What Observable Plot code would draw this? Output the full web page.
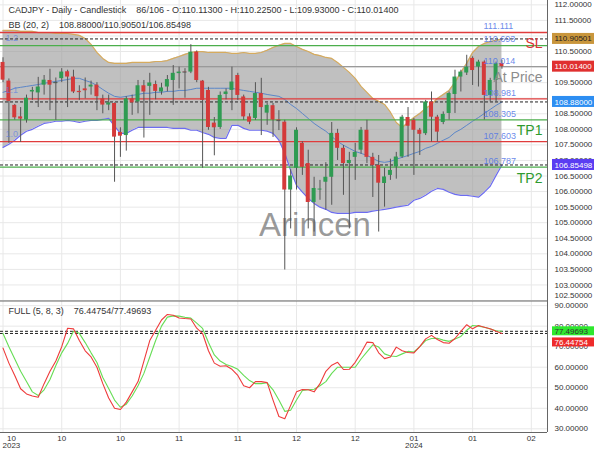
<!DOCTYPE html>
<html><head><meta charset="utf-8">
<script src="https://cdn.jsdelivr.net/npm/d3@7"></script>
<script src="https://cdn.jsdelivr.net/npm/@observablehq/plot@0.6"></script>
<style>
body{margin:0;background:#fff;}
#chart{width:600px;height:450px;position:relative;background:#fff;}
#chart svg{display:block;}
</style></head><body><div id="chart"></div>
<script>
// ---- Candle data (index 0..85) ----
const opens = [110.15,109.55,108.77,108.40,108.30,109.20,109.17,109.42,109.57,109.48,
109.63,109.85,109.68,109.22,109.30,109.36,109.42,108.98,108.78,108.83,
107.90,107.80,108.98,108.88,109.40,109.38,109.44,109.20,109.36,109.57,
109.79,109.85,109.84,110.48,109.55,109.25,108.20,108.06,109.12,109.25,
109.73,109.04,108.40,108.35,109.15,108.52,108.76,108.30,108.23,106.05,
106.75,107.55,106.90,105.65,106.05,106.30,106.46,107.87,107.39,106.90,
107.10,107.33,107.97,107.10,106.84,106.26,106.52,106.79,107.11,108.38,
108.29,107.97,107.86,108.88,108.39,108.22,108.51,109.12,109.68,109.81,
110.28,110.00,110.16,109.09,109.57,110.113];
const highs = [110.30,109.62,108.80,108.70,109.10,109.35,109.67,109.73,109.93,109.65,
109.95,109.90,109.90,109.40,109.65,109.55,109.50,109.10,109.10,108.85,
108.05,109.05,109.10,109.57,109.57,109.80,109.55,109.48,109.73,110.05,
110.00,109.95,110.72,110.52,109.57,109.35,108.38,109.20,109.30,110.00,
109.80,109.10,108.50,109.50,109.64,108.83,108.83,108.60,108.29,106.70,
108.05,107.60,107.33,106.46,106.36,106.93,108.22,108.00,107.48,107.26,
107.55,108.06,108.29,107.23,107.16,106.75,107.04,107.26,108.45,108.70,
108.35,108.03,108.93,109.20,108.45,108.56,109.20,109.90,109.90,110.38,
110.33,110.22,110.20,109.64,110.16,110.225];
const lows = [109.50,107.55,108.30,107.58,108.20,108.93,108.70,109.10,108.60,108.29,
109.50,108.70,109.15,108.93,108.98,109.10,108.60,108.50,108.60,106.30,
107.10,107.30,108.45,108.50,107.72,108.45,108.95,109.10,109.20,108.77,
109.30,109.00,109.79,109.50,106.75,107.97,107.15,108.00,108.95,108.60,
108.93,108.29,108.15,108.29,107.80,108.13,107.74,107.96,103.48,104.80,
106.05,106.52,104.80,104.70,105.72,105.40,105.56,107.00,105.88,104.80,
106.36,107.20,106.90,105.81,104.70,105.50,106.36,106.40,107.07,107.10,
106.52,107.16,107.80,107.59,107.59,108.15,108.30,108.51,109.20,109.73,
109.41,109.36,108.30,108.88,108.88,109.93];
const closes = [109.58,108.90,108.37,108.33,109.00,109.25,109.36,109.58,109.42,109.50,
109.84,109.68,109.20,109.18,109.24,109.42,109.05,108.78,108.85,107.75,
107.78,108.98,108.85,109.40,109.20,109.49,109.22,109.33,109.60,109.80,
109.84,109.84,110.48,109.57,108.93,108.06,108.05,109.09,109.20,109.52,
109.09,108.40,108.23,109.15,108.70,108.77,108.30,108.28,106.05,106.50,
107.97,106.78,105.65,106.10,106.08,106.46,107.87,107.39,106.90,107.00,
107.26,107.97,107.10,106.84,106.27,106.47,106.68,107.11,108.39,108.10,
107.97,107.84,108.88,108.39,107.91,108.48,109.15,109.68,109.84,110.00,
109.89,110.16,109.09,109.57,110.11,110.014];

// ---- Bollinger Bands (20, 2) ----
const bbUpper = [111.18,111.18,111.18,111.15,111.15,111.15,111.11,111.11,111.11,111.08,
111.08,111.08,111.05,111.02,110.92,110.73,110.47,110.28,110.15,110.12,
110.12,110.12,110.15,110.15,110.15,110.15,110.18,110.18,110.21,110.28,
110.34,110.41,110.47,110.50,110.50,110.47,110.47,110.47,110.47,110.44,
110.44,110.47,110.44,110.44,110.47,110.54,110.63,110.70,110.76,110.76,
110.66,110.57,110.50,110.41,110.37,110.31,110.28,110.15,109.99,109.83,
109.64,109.38,109.19,108.99,108.90,108.80,108.55,108.22,108.06,108.22,
108.38,108.51,108.67,108.80,108.99,109.12,109.25,109.51,109.83,110.12,
110.47,110.66,110.76,110.82,110.86,110.905];
const bbMiddle = [109.19,109.25,109.32,109.35,109.38,109.41,109.44,109.48,109.51,109.54,
109.57,109.60,109.64,109.64,109.57,109.51,109.41,109.28,109.16,109.06,
109.03,109.06,109.09,109.12,109.16,109.16,109.19,109.19,109.22,109.22,
109.25,109.25,109.28,109.32,109.32,109.32,109.32,109.32,109.32,109.32,
109.28,109.25,109.22,109.19,109.16,109.12,109.09,109.06,108.96,108.80,
108.67,108.51,108.35,108.19,108.06,107.94,107.77,107.61,107.49,107.39,
107.29,107.23,107.16,107.07,106.97,106.94,106.97,107.04,107.10,107.16,
107.23,107.29,107.39,107.45,107.55,107.65,107.74,107.90,108.00,108.13,
108.26,108.38,108.51,108.64,108.77,108.88];
const bbLower = [107.42,107.52,107.65,107.81,107.94,108.00,108.10,108.19,108.22,108.26,
108.26,108.29,108.26,108.22,108.26,108.29,108.29,108.32,108.35,108.10,
107.87,107.87,107.97,108.06,108.06,108.06,108.06,108.06,108.06,108.03,
108.03,108.03,107.97,107.97,107.90,107.84,107.74,107.71,107.71,108.13,
108.13,108.03,107.97,107.97,107.97,107.94,107.87,107.65,107.23,106.68,
106.20,105.98,105.78,105.62,105.50,105.43,105.33,105.30,105.30,105.30,
105.33,105.33,105.33,105.37,105.40,105.43,105.46,105.50,105.53,105.56,
105.72,105.78,105.88,106.01,106.10,106.07,105.98,105.91,105.88,105.88,
105.85,105.82,105.98,106.17,106.52,106.855];

// ---- Stochastic FULL (5, 8, 3) ----
const stochK = [69.3,62,56,49.5,47,46,45.4,52,58,63,
70,79,78.7,73,68,65,60,52,45,40,
39.4,43,48,53,63,73,78,83,85.7,85.3,
84,83.7,83.5,79,76.4,68,62,60.5,60.7,59,
56,51,50,53,53,52.5,44,36,34.9,41.4,
48,49.1,49,48,52,58,61,62.4,58.9,59,
62.4,67,72.2,72,67,64.2,65,69.8,68,67.2,
67,70,73.8,75.5,73.5,72,71.7,74,77.5,80.7,
78.7,80.3,79.5,78.7,77.5,76.45];
const stochD = [76.4,70,64,58,53,48,46.2,49,54,60.8,
67,71.6,77.5,76.5,72,67,62.3,55,49.6,44,
40.5,42,46,51,57,65,73,80,84.4,85,
84.9,84.3,83.9,81.5,78.9,72,66,63,61.3,60.3,
59,56,53.5,52,52,52.4,49,44,38.5,39,
44,48.7,49,49.3,51,53,57,60,60,60,
60,64,67.5,70.9,69.8,66.5,65.5,65.2,66.5,67.7,
67.4,70,73,74,74.1,73.2,72.6,73.8,75,78,
80.3,80,79.5,78.6,77.8,77.5];

// ---- Axis labels ----
const xTickIndex = [0,10,20,30,40,50,60,70,80,90];
const xTickLabels = ["10","10","10","11","11","12","12","01","01","02"];
const yearIndex = [0,70];
const yearLabels = ["2023","2024"];
const priceTicks = d3.range(102.5, 112.001, 0.5);
const stochTicks = [30,40,50,60,70,80,90];

// ---- Levels ----
const levelValues = [111.111,110.693,110.014,108.981,108.305,107.603,106.787];
const levelKinds  = ["sl","tp","price","sl","tp","sl","tp"];
const annTexts  = ["SL","At Price","TP1","TP2"];
const annLevels = [111.111,110.014,108.305,106.787];
const annKinds  = ["sl","price","tp","tp"];
const sideTexts = ["1.2","1.1","1.0"];
const sideValues = [110.92,109.25,107.84];
const bbDashed = [110.90501,108.88000,106.85498];
const stochDashed = [77.49693,76.44754];
const upperBadgeValues = [110.90501,110.01400,108.88000,106.85498];
const upperBadgeKinds = ["bbU","price","bbM","bbL"];
const lowerBadgeValues = [77.49693,76.44754];
const lowerBadgeKinds = ["d","k"];

const candles = opens.map((o,i)=>({i, open:o, high:highs[i], low:lows[i], close:closes[i],
  upper:bbUpper[i], middle:bbMiddle[i], lower:bbLower[i], k:stochK[i], d:stochD[i]}));
const xTicks = xTickIndex.map((i,j)=>({i, label:xTickLabels[j]}));
const years = yearIndex.map((i,j)=>({i, label:yearLabels[j]}));
const levels = levelValues.map((v,j)=>({value:v, kind:levelKinds[j]}));
const anns = annTexts.map((t,j)=>({text:t, value:annLevels[j], kind:annKinds[j]}));
const sides = sideTexts.map((t,j)=>({text:t, value:sideValues[j]}));

const levelColor = {sl:"#e03c3c", tp:"#4cae4c", price:"#9a9a9a"};
const annColor = {sl:"#dd3333", tp:"#2e9a2e", price:"#8c8c8c"};
const badgeBg = {bbU:"#c9963c", price:"#e0302f", bbM:"#2d8ef2", bbL:"#5a3df2", d:"#2ee82e", k:"#ee2b2b"};
const badgeFg = {bbU:"#222", price:"#fff", bbM:"#fff", bbL:"#fff", d:"#333", k:"#fff"};

const xDomain = [-0.43, 92.76];
const FONT = "'Liberation Sans', Arial, sans-serif";
const GRID = "#e8e8e8";
const AXIS = "#666";

function badges(values, kinds, dy, h) {
  const data = values.map((v,j)=>({value:v, kind:kinds[j]}));
  return [
    Plot.rect(data, {x1: xDomain[1], x2: xDomain[1], y1: "value", y2: "value",
      insetLeft: 5, insetRight: -47, insetTop: dy - h / 2, insetBottom: -dy - h / 2,
      fill: d => badgeBg[d.kind]}),
    Plot.text(data, {y: "value", text: d => d.value.toFixed(5), frameAnchor: "right",
      textAnchor: "start", dx: 7, dy: dy, fill: d => badgeFg[d.kind], fontSize: 8})
  ];
}

const upper = Plot.plot({
  width: 600, height: 300, marginTop: 0, marginBottom: 0, marginLeft: 0, marginRight: 53,
  x: {domain: xDomain, axis: null},
  y: {domain: [102.5, 112.14], axis: null},
  color: {type: "identity"},
  style: {fontFamily: FONT, fontSize: "9px", background: "transparent", overflow: "visible"},
  marks: [
    Plot.ruleY(priceTicks, {stroke: GRID}),
    Plot.ruleX(xTickIndex, {stroke: GRID}),
    Plot.areaY(candles, {x: "i", y1: "lower", y2: "upper", fill: "#999", fillOpacity: 0.62}),
    Plot.lineY(candles, {x: "i", y: "upper", stroke: "#d6ab5e", strokeWidth: 1.2}),
    Plot.lineY(candles, {x: "i", y: "lower", stroke: "#6c6cf0", strokeWidth: 1.2}),
    Plot.lineY(candles, {x: "i", y: "middle", stroke: "#5b86c8", strokeWidth: 1}),
    Plot.ruleY(levels, {y: "value", stroke: d => levelColor[d.kind], strokeWidth: 1.3}),
    Plot.ruleY(bbDashed, {stroke: "#222", strokeDasharray: "3,2", strokeWidth: 1}),
    Plot.ruleX(candles, {x: "i", y1: "low", y2: "high", stroke: "#555", strokeWidth: 1}),
    Plot.rect(candles, {x1: d => d.i - 0.34, x2: d => d.i + 0.34, y1: "open", y2: "close",
      fill: d => d.close >= d.open ? "#2f9b52" : "#d43a3a"}),
    Plot.ruleY(candles.filter(d => Math.abs(d.close - d.open) < 0.03),
      {y: "close", x1: d => d.i - 0.34, x2: d => d.i + 0.34, stroke: "#555"}),
    Plot.text(levels, {y: "value", text: d => d.value.toFixed(3), frameAnchor: "right",
      textAnchor: "start", dx: -64, dy: -6, fill: "#4f74e6", fillOpacity: 0.85, fontSize: 9}),
    Plot.text(sides, {y: "value", text: "text", frameAnchor: "left", textAnchor: "start",
      dx: 5, fill: "#5f7fe0", fillOpacity: 0.7, fontSize: 9}),
    Plot.text(anns, {y: "value", text: "text", frameAnchor: "right", textAnchor: "end",
      dx: -5, dy: 11, fill: d => annColor[d.kind], fontSize: 14}),
    Plot.text(["Arincen"], {frameAnchor: "middle", dx: 41, dy: 75, fill: "#555",
      fillOpacity: 0.6, fontSize: 33}),
    Plot.text(["CADJPY - Daily - Candlestick\u00a0\u00a0\u00a0 86/106 - O:110.11300 - H:110.22500 - L:109.93000 - C:110.01400"],
      {frameAnchor: "top-left", dx: 8, dy: 10, textAnchor: "start", lineAnchor: "middle", fill: "#333", fontSize: 9}),
    Plot.text(["BB (20, 2)\u00a0\u00a0\u00a0 108.88000/110.90501/106.85498"],
      {frameAnchor: "top-left", dx: 8, dy: 25, textAnchor: "start", lineAnchor: "middle", fill: "#333", fontSize: 9}),
    Plot.ruleX([xDomain[1]], {stroke: AXIS}),
    Plot.text(priceTicks.slice(1), {y: d => d, text: d => d.toFixed(5), frameAnchor: "right",
      textAnchor: "start", dx: 7, fill: "#333", fontSize: 8}),
    Plot.text(priceTicks.slice(0, 1), {y: d => d, text: d => d.toFixed(5), frameAnchor: "right",
      textAnchor: "start", dx: 7, dy: -5, fill: "#333", fontSize: 8}),
    ...badges(upperBadgeValues, upperBadgeKinds, 0, 11)
  ]
});

const lowerPlot = Plot.plot({
  width: 600, height: 150, marginTop: 0, marginBottom: 18, marginLeft: 0, marginRight: 53,
  x: {domain: xDomain, axis: null},
  y: {domain: [28.2, 92.5], axis: null},
  color: {type: "identity"},
  style: {fontFamily: FONT, fontSize: "9px", background: "transparent"},
  marks: [
    Plot.ruleY(stochTicks, {stroke: GRID}),
    Plot.ruleX(xTickIndex, {stroke: GRID}),
    Plot.ruleY(stochDashed, {stroke: "#222", strokeDasharray: "3,2", strokeWidth: 1}),
    Plot.lineY(candles, {x: "i", y: "d", stroke: "#66dd55", strokeWidth: 1.1}),
    Plot.lineY(candles, {x: "i", y: "k", stroke: "#ee3b3b", strokeWidth: 1.1}),
    Plot.text(["FULL (5, 8, 3)\u00a0\u00a0\u00a0 76.44754/77.49693"],
      {frameAnchor: "top-left", dx: 8, dy: 11, textAnchor: "start", lineAnchor: "middle", fill: "#333", fontSize: 9}),
    Plot.ruleY([92.5], {stroke: AXIS, dy: 0.5}),
    Plot.ruleY([28.2], {stroke: AXIS}),
    Plot.ruleX([xDomain[1]], {stroke: AXIS}),
    Plot.text(stochTicks, {y: d => d, text: d => d.toFixed(5), frameAnchor: "right",
      textAnchor: "start", dx: 7, fill: "#333", fontSize: 8}),
    Plot.text(xTicks.slice(1), {x: "i", text: "label", frameAnchor: "bottom", dy: 6, lineAnchor: "middle", fill: "#333", fontSize: 8}),
    Plot.text(xTicks.slice(0, 1), {x: "i", text: "label", frameAnchor: "bottom", dy: 6, dx: 4, textAnchor: "start", lineAnchor: "middle", fill: "#333", fontSize: 8}),
    Plot.text(years.slice(1), {x: "i", text: "label", frameAnchor: "bottom", dy: 13, lineAnchor: "middle", fill: "#333", fontSize: 8}),
    Plot.text(years.slice(0, 1), {x: "i", text: "label", frameAnchor: "bottom", dy: 13, dx: -0.5, textAnchor: "start", lineAnchor: "middle", fill: "#333", fontSize: 8}),
    ...badges(lowerBadgeValues.slice(0, 1), lowerBadgeKinds.slice(0, 1), 0, 9),
    ...badges(lowerBadgeValues.slice(1), lowerBadgeKinds.slice(1), 9, 9)
  ]
});

const root = document.getElementById("chart");
root.appendChild(upper);
root.appendChild(lowerPlot);
</script></body></html>
